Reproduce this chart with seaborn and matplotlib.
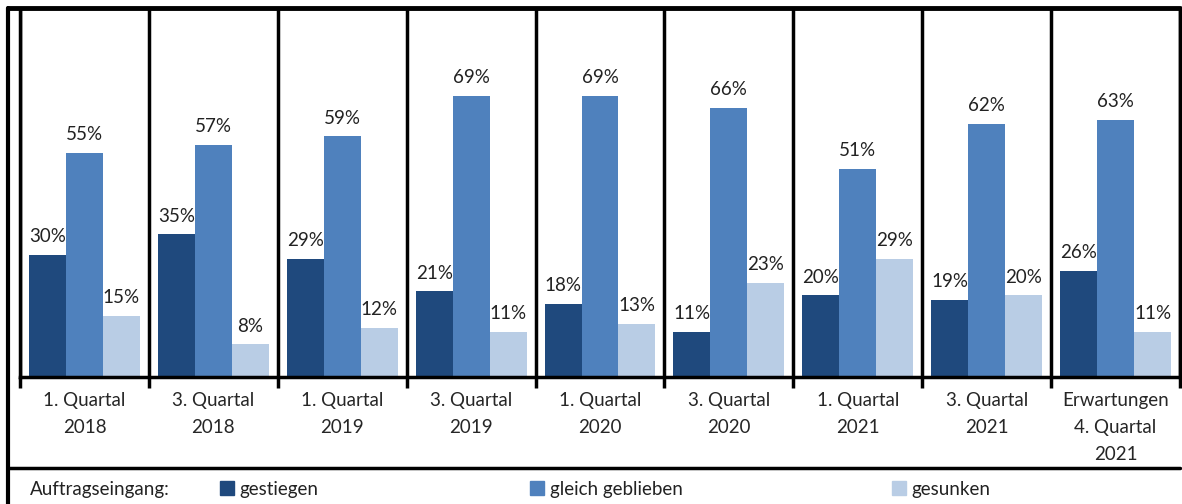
import pandas as pd
import matplotlib.pyplot as plt
import seaborn as sns
from matplotlib.lines import Line2D
from matplotlib.patches import Patch

# data
periods = ["1. Quartal\n2018", "3. Quartal\n2018", "1. Quartal\n2019", "3. Quartal\n2019",
           "1. Quartal\n2020", "3. Quartal\n2020", "1. Quartal\n2021", "3. Quartal\n2021",
           "Erwartungen\n4. Quartal\n2021"]
gestiegen = [30, 35, 29, 21, 18, 11, 20, 19, 26]
gleich = [55, 57, 59, 69, 69, 66, 51, 62, 63]
gesunken = [15, 8, 12, 11, 13, 23, 29, 20, 11]
series_names = ["gestiegen", "gleich geblieben", "gesunken"]
colors = ["#1f497d", "#4f81bd", "#b9cde5"]

df = pd.DataFrame({"period": periods * 3,
                   "status": [series_names[0]] * 9 + [series_names[1]] * 9 + [series_names[2]] * 9,
                   "value": gestiegen + gleich + gesunken})

sns.set_style("white")
plt.rcParams["font.family"] = ["Lato", "DejaVu Sans"]
plt.rcParams["text.color"] = "#222222"
fs = 13.5

fig = plt.figure(figsize=(11.82, 5.04), dpi=100)
ax = fig.add_axes([20 / 1182, 127 / 504, 1160 / 1182, 367 / 504])

sns.barplot(data=df, x="period", y="value", hue="status", palette=colors,
            width=0.86, saturation=1, linewidth=0, ax=ax, legend=False)

for cont in ax.containers:
    ax.bar_label(cont, fmt="%d%%", padding=7, fontsize=fs, color="#222222")

ax.set_ylim(0, 90)
ax.set_xlim(-0.5, len(periods) - 0.5)
ax.set_xlabel("")
ax.set_ylabel("")
ax.set_yticks([])

# group separators and tick marks between categories
bounds = [i - 0.5 for i in range(len(periods) + 1)]
ax.set_xticks(bounds)
ax.set_xticklabels([])
ax.tick_params(axis="x", which="major", length=8, width=2.5, color="black", bottom=True)
ax.set_xticks(range(len(periods)), minor=True)
ax.set_xticklabels(periods, minor=True, fontsize=fs, linespacing=1.72)
ax.tick_params(axis="x", which="minor", length=0, pad=11)
for b in bounds:
    ax.axvline(b, color="black", lw=2.5, zorder=3)
for s in ["left", "right", "bottom"]:
    ax.spines[s].set_color("black")
    ax.spines[s].set_linewidth(2.5)
ax.spines["top"].set_visible(False)

# outer frame and legend separator
fig.add_artist(Line2D([8 / 1182, 1180 / 1182], [496 / 504, 496 / 504], color="black", lw=3.5))
fig.add_artist(Line2D([8 / 1182, 8 / 1182], [0, 496 / 504], color="black", lw=3))
fig.add_artist(Line2D([8 / 1182, 1180 / 1182], [36 / 504, 36 / 504], color="black", lw=2.5))

fig.text(30 / 1182, 15 / 504, "Auftragseingang:", fontsize=fs, va="center")
legend_x = [203, 513, 875]
for name, col, lx in zip(series_names, colors, legend_x):
    leg = fig.legend(handles=[Patch(color=col)], labels=[name], loc="center left",
                     bbox_to_anchor=(lx / 1182, 15 / 504), frameon=False, fontsize=fs,
                     handlelength=0.75, handleheight=0.75, handletextpad=0.3)

fig.savefig("out.png", dpi=100)
